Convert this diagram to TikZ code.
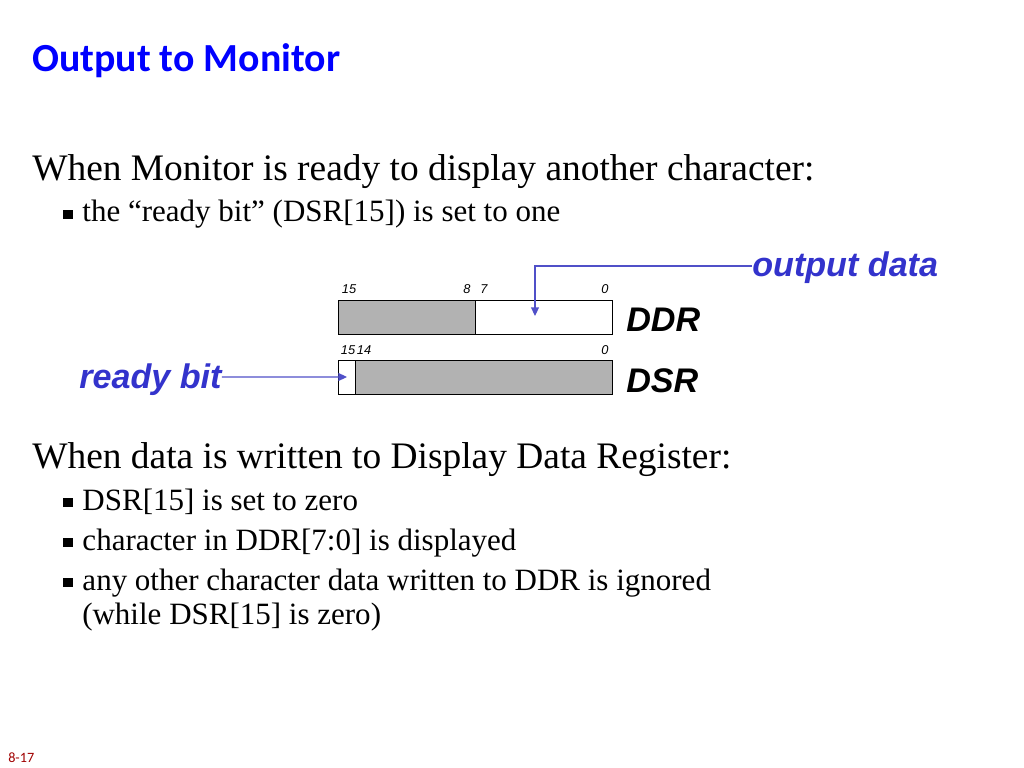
\documentclass[tikz,border=0pt]{standalone}
\usepackage{fontspec}
\setmainfont{Liberation Serif}
\newfontfamily\titlefont{Carlito}
\newfontfamily\labelfont{Liberation Sans}
\usetikzlibrary{arrows.meta}
\definecolor{titleblue}{RGB}{0,0,255}
\definecolor{labelblue}{RGB}{51,51,204}
\definecolor{arrowblue}{RGB}{80,80,200}
\definecolor{regfill}{RGB}{178,178,178}
\definecolor{footred}{RGB}{160,0,0}
\newcommand{\sqbul}{\rule[2pt]{6.5pt}{6.5pt}\hspace{7pt}}

\begin{document}
\begin{tikzpicture}[x=0.703125pt,y=-0.703125pt,
  txt/.style={anchor=base west,inner sep=0pt},
  head/.style={txt,font=\fontsize{26.3}{30}\selectfont},
  sub/.style={txt,font=\fontsize{21.8}{26}\selectfont},
  bitno/.style={anchor=base,inner sep=0pt,font=\labelfont\itshape\fontsize{9}{10}\selectfont},
  regname/.style={txt,font=\labelfont\bfseries\itshape\fontsize{24}{28}\selectfont},
  callout/.style={regname,text=labelblue},
  field/.style={draw=black,line width=0.7pt},
  ptr/.style={draw=arrowblue,line width=0.8pt,-{Triangle[length=6pt,width=5.5pt]}}]
\useasboundingbox (0,0) rectangle (1024,768);

\node[txt,font=\titlefont\bfseries\fontsize{28}{32}\selectfont,text=titleblue] (title) at (32,72) {Output to Monitor};

\node[head] (ready1) at (32,181) {When Monitor is ready to display another character:};
\node[sub] (ready2) at (63,222) {\sqbul the “ready bit” (DSR[15]) is set to one};

% registers
\draw[field,fill=regfill] (338,300) rectangle (475,334);
\draw[field] (475,300) rectangle (612,334);
\draw[field] (338,360) rectangle (355,394);
\draw[field,fill=regfill] (355,360) rectangle (612,394);

\node[bitno] (d15) at (349,294) {15};
\node[bitno] (d8) at (467,294) {8};
\node[bitno] (d7) at (484,294) {7};
\node[bitno] (d0) at (605,294) {0};
\node[bitno] (s15) at (348,354) {15};
\node[bitno] (s14) at (364,354) {14};
\node[bitno] (s0) at (605,354) {0};

\node[regname] (ddr) at (626,331) {DDR};
\node[regname] (dsr) at (626,392) {DSR};
\node[callout] (odata) at (752,277) {output data};
\node[callout] (ready) at (79,388) {ready bit};

\coordinate (ddrin) at (535,316);
\coordinate (dsrin) at (347,377);
\draw[ptr] ([yshift=7.7pt]odata.base west) -| (ddrin);
\draw[ptr] ([yshift=7.7pt]ready.base east) -- (dsrin);

\node[head] (write1) at (32,468) {When data is written to Display Data Register:};
\node[sub] (write2) at (63,510) {\sqbul DSR[15] is set to zero};
\node[sub] (write3) at (63,550) {\sqbul character in DDR[7:0] is displayed};
\node[sub] (write4) at (63,590) {\sqbul any other character data written to DDR is ignored};
\node[sub] (write5) at (82,624) {(while DSR[15] is zero)};

\node[txt,font=\titlefont\fontsize{10}{12}\selectfont,text=footred] (page) at (8,762) {8-17};
\end{tikzpicture}
\end{document}
